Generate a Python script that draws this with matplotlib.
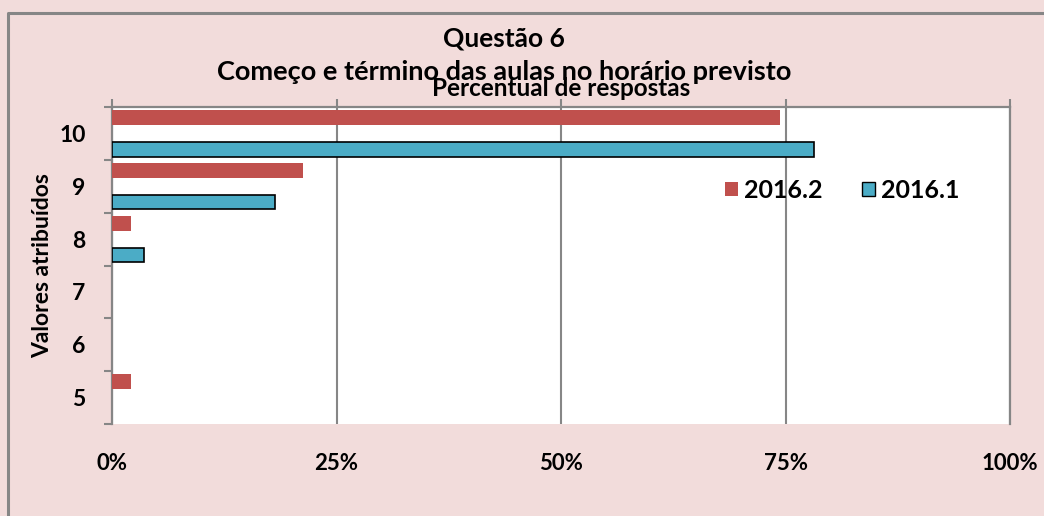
import matplotlib
matplotlib.use("Agg")
import matplotlib.pyplot as plt
from matplotlib.patches import Patch
from matplotlib.lines import Line2D
from matplotlib.ticker import FuncFormatter
import numpy as np

categories = ["10", "9", "8", "7", "6", "5"]
serie_2016_2 = [74.4, 21.3, 2.1, 0.0, 0.0, 2.1]
serie_2016_1 = [78.2, 18.2, 3.6, 0.0, 0.0, 0.0]
x_ticks = [0, 25, 50, 75, 100]

RED = "#C0504D"
BLUE = "#4BACC6"
PINK = "#F2DCDB"
GRAY = "#868686"
FONT = "Lato"

W, H = 1044, 516
fig = plt.figure(figsize=(W / 100, H / 100), dpi=100, facecolor=PINK)

# outer chart border (top and left visible)
fig.add_artist(Line2D([8 / W, 8 / W, 1.0], [0.0, 1 - 13 / H, 1 - 13 / H],
                      transform=fig.transFigure, color=GRAY, lw=2.2))

left, right, top, bottom = 112, 1010, 107, 424
ax = fig.add_axes([left / W, 1 - bottom / H, (right - left) / W, (bottom - top) / H])
ax.set_facecolor("white")

y = np.arange(len(categories))
off, h = 0.3, 0.28
ax.barh(y - off, serie_2016_2, height=h, color=RED, edgecolor="none", label="2016.2", zorder=3)
lw1 = [1.2 if v > 0 else 0 for v in serie_2016_1]
ax.barh(y + off, serie_2016_1, height=h, color=BLUE, edgecolor="black", linewidth=lw1,
        label="2016.1", zorder=3)

ax.set_xlim(0, 100)
ax.set_ylim(len(categories) - 0.5, -0.5)

ax.set_xticks(x_ticks)
ax.xaxis.set_major_formatter(FuncFormatter(lambda v, p: f"{int(v)}%"))
ax.tick_params(axis="x", top=True, bottom=False, labeltop=False, labelbottom=True,
               direction="out", length=6, width=1.5, color=GRAY, pad=15)
for lab in ax.get_xticklabels():
    lab.set_fontfamily(FONT)
    lab.set_fontweight("bold")
    lab.set_fontsize(16)

ax.set_yticks(y)
ax.set_yticklabels(categories, fontfamily=FONT, fontweight="bold", fontsize=16.5)
ax.set_yticks(np.arange(-0.5, len(categories), 1.0), minor=True)
ax.tick_params(axis="y", which="major", length=0, pad=19)
ax.tick_params(axis="y", which="minor", length=6, width=1.5, color=GRAY, direction="out")

ax.grid(axis="x", color=GRAY, linewidth=1.5, zorder=1)
for s in ["top", "left", "right"]:
    ax.spines[s].set_color(GRAY)
    ax.spines[s].set_linewidth(1.6)
ax.spines["bottom"].set_visible(False)

ax.set_ylabel("Valores atribuídos", fontfamily=FONT, fontweight="bold", fontsize=16.5,
              labelpad=4)

fig.text(504 / W, 1 - 38 / H, "Questão 6", ha="center", va="center",
         fontfamily=FONT, fontweight="bold", fontsize=19)
fig.text(504 / W, 1 - 72 / H, "Começo e término das aulas no horário previsto", ha="center",
         va="center", fontfamily=FONT, fontweight="bold", fontsize=19.5)
fig.text((left + right) / 2 / W, 1 - 89 / H, "Percentual de respostas", ha="center",
         va="center", fontfamily=FONT, fontweight="bold", fontsize=17.5)

handles = [Patch(facecolor=RED, edgecolor="none"), Patch(facecolor=BLUE, edgecolor="black")]
fig.legend(handles, ["2016.2", "2016.1"], loc="center left",
           bbox_to_anchor=(725 / W, 1 - 190 / H), ncol=2, frameon=False,
           borderpad=0, borderaxespad=0, handlelength=0.5, handleheight=0.5,
           handletextpad=0.25, columnspacing=1.6,
           prop={"family": FONT, "weight": "bold", "size": 18})

fig.savefig("out.png", dpi=100, facecolor=PINK)
